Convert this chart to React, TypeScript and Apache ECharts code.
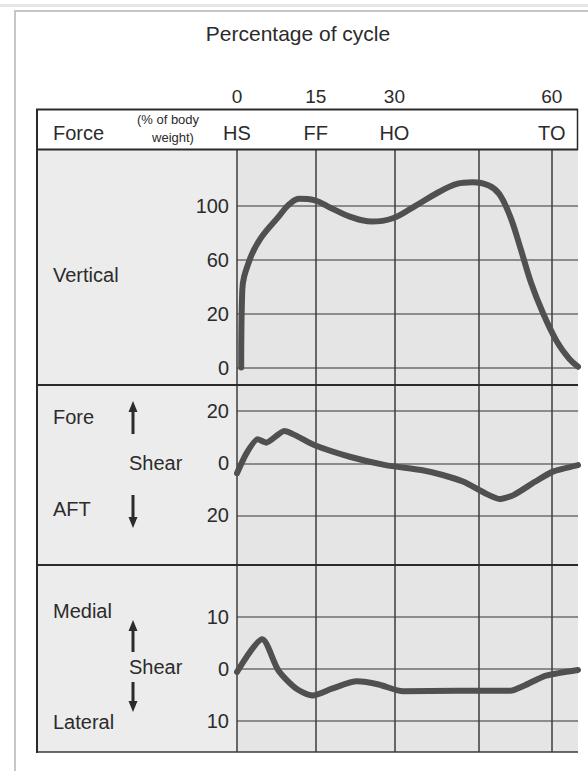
import React, { useEffect, useRef } from 'react';
import * as echarts from 'echarts';

// ---- data ----
const cycleTicks = [0, 15, 30, 60];
const phaseLabels = ['HS', 'FF', 'HO', 'TO'];
const cycleGridLines = [0, 15, 30, 46, 60];

const verticalTickLabels = [0, 20, 60, 100];
const verticalPct = [0.8, 1.0, 2.4, 4.5, 7.9, 10, 11.9, 14.7, 18.1, 21.5, 25.6, 29.7, 33.7, 38.5, 41.9, 44.9, 48, 50, 52.1, 54.1, 56.1, 58.2, 60.9, 63.3, 65];
const verticalForce = [0, 37, 60, 76, 92, 101.5, 105.4, 104.4, 98.3, 92.2, 88.5, 91, 99.5, 110.5, 116.6, 117.8, 115.4, 109, 92, 67.8, 42.4, 21.6, 9.9, 3.3, 0.3];

const apTickLabels = [-20, 0, 20];
const apPct = [0, 1.8, 3.9, 5.6, 9, 14.7, 21.5, 28.3, 35.1, 39.2, 43.2, 47.3, 50, 52.7, 56.8, 60.2, 65];
const apForce = [-3.8, 3.8, 9.2, 7.9, 12.4, 7, 2.5, -0.7, -2.6, -4.5, -7.1, -11.5, -13.7, -12.2, -7.1, -3.2, -0.7];

const mlTickLabels = [-10, 0, 10];
const mlPct = [0, 4.8, 7.9, 11.3, 14.4, 18.1, 22.9, 27, 31.7, 41.9, 52.1, 54.8, 58.9, 65];
const mlForce = [-0.6, 5.7, -0.3, -3.8, -5.1, -3.8, -2.4, -3.0, -4.3, -4.2, -4.2, -3.2, -1.3, -0.2];

// The printed vertical-force axis spaces 0, 20, 60, 100 evenly: map a value onto that axis.
function toVerticalStep(v: number): number {
  const t = verticalTickLabels;
  for (let i = 0; i < t.length - 1; i++) {
    if (v <= t[i + 1]) return i + (v - t[i]) / (t[i + 1] - t[i]);
  }
  const n = t.length - 1;
  return n + (v - t[n]) / (t[n] - t[n - 1]);
}

const FONT = '"Liberation Sans", Arial, Helvetica, sans-serif';
const TXT = '#2b2b2b';

function txt(text: string, x: number, y: number, size: number, align = 'left') {
  return {
    type: 'text',
    z: 100,
    style: {
      text, x, y, fill: TXT, fontSize: size, fontFamily: FONT,
      align, verticalAlign: 'middle', textAlign: align, textVerticalAlign: 'middle',
    },
  };
}

function arrow(x: number, y1: number, y2: number, up: boolean) {
  const els: any[] = [];
  if (up) {
    els.push({ type: 'line', z: 100, shape: { x1: x, y1: y1 + 8, x2: x, y2 }, style: { stroke: '#2b2b2b', lineWidth: 3 } });
    els.push({ type: 'polygon', z: 100, shape: { points: [[x, y1], [x - 4.5, y1 + 11], [x + 4.5, y1 + 11]] }, style: { fill: '#2b2b2b' } });
  } else {
    els.push({ type: 'line', z: 100, shape: { x1: x, y1, x2: x, y2: y2 - 8 }, style: { stroke: '#2b2b2b', lineWidth: 3 } });
    els.push({ type: 'polygon', z: 100, shape: { points: [[x, y2], [x - 4.5, y2 - 11], [x + 4.5, y2 - 11]] }, style: { fill: '#2b2b2b' } });
  }
  return els;
}

export default function App() {
  const ref = useRef<HTMLDivElement>(null);
  useEffect(() => {
    if (!ref.current) return;
    const chart = echarts.init(ref.current, undefined, { renderer: 'svg' });

    const vLine = { color: '#3d3d3d', width: 1.5 };
    const hLine = { color: '#6e6e6e', width: 1.5 };
    const labelBase = { fontSize: 20, color: TXT, fontFamily: FONT };

    const plotX = (g: number) => ({
      gridIndex: g, type: 'value', min: 0, max: 65,
      axisLine: { show: false },
      axisTick: { show: false, customValues: cycleGridLines },
      axisLabel: { show: false },
      splitLine: { show: true, lineStyle: vLine },
    });

    const lineStyle = { color: '#505050', width: 6, cap: 'round', join: 'round' };

    const option: any = {
      animation: false,
      backgroundColor: '#ffffff',
      grid: [
        { left: 237, width: 341, top: 109, height: 40, show: false },
        { left: 237, width: 341, top: 150, height: 235, show: true, backgroundColor: '#e5e5e5', borderWidth: 0 },
        { left: 237, width: 341, top: 385, height: 180, show: true, backgroundColor: '#e5e5e5', borderWidth: 0 },
        { left: 237, width: 341, top: 565, height: 187, show: true, backgroundColor: '#e5e5e5', borderWidth: 0 },
      ],
      xAxis: [
        {
          gridIndex: 0, type: 'value', position: 'top', min: 0, max: 65,
          axisLine: { show: false }, axisTick: { show: false, customValues: cycleTicks },
          axisLabel: { ...labelBase, fontSize: 19, customValues: cycleTicks, margin: 3 },
          splitLine: { show: false },
        },
        {
          gridIndex: 0, type: 'value', position: 'bottom', min: 0, max: 65,
          axisLine: { show: false }, axisTick: { show: false, customValues: cycleTicks },
          axisLabel: {
            ...labelBase, inside: true, margin: 6, customValues: cycleTicks,
            formatter: (v: number) => phaseLabels[cycleTicks.indexOf(v)] ?? '',
          },
          splitLine: { show: false },
        },
        plotX(1), plotX(2), plotX(3),
      ],
      yAxis: [
        { gridIndex: 0, type: 'value', min: 0, max: 1, show: false },
        {
          gridIndex: 1, type: 'value', min: -0.325, max: 4.043,
          axisLine: { show: false },
          axisTick: { show: false, customValues: [0, 1, 2, 3] },
          axisLabel: { ...labelBase, customValues: [0, 1, 2, 3], margin: 8, formatter: (v: number) => String(verticalTickLabels[Math.round(v)]) },
          splitLine: { show: true, lineStyle: hLine },
        },
        {
          gridIndex: 2, type: 'value', min: -39, max: 30,
          axisLine: { show: false },
          axisTick: { show: false, customValues: apTickLabels },
          axisLabel: { ...labelBase, customValues: apTickLabels, margin: 8, formatter: (v: number) => String(Math.abs(v)) },
          splitLine: { show: true, lineStyle: hLine },
        },
        {
          gridIndex: 3, type: 'value', min: -16, max: 20,
          axisLine: { show: false },
          axisTick: { show: false, customValues: mlTickLabels },
          axisLabel: { ...labelBase, customValues: mlTickLabels, margin: 8, formatter: (v: number) => String(Math.abs(v)) },
          splitLine: { show: true, lineStyle: hLine },
        },
      ],
      series: [
        {
          name: 'Vertical', type: 'line', xAxisIndex: 2, yAxisIndex: 1,
          data: verticalPct.map((x, i) => [x, toVerticalStep(verticalForce[i])]),
          symbol: 'none', smooth: 0.4, z: 5, lineStyle,
        },
        {
          name: 'Fore-aft shear', type: 'line', xAxisIndex: 3, yAxisIndex: 2,
          data: apPct.map((x, i) => [x, apForce[i]]),
          symbol: 'none', smooth: 0.2, z: 5, lineStyle,
        },
        {
          name: 'Medial-lateral shear', type: 'line', xAxisIndex: 4, yAxisIndex: 3,
          data: mlPct.map((x, i) => [x, mlForce[i]]),
          symbol: 'none', smooth: 0.25, z: 5, lineStyle,
        },
      ],
      graphic: [
        { type: 'rect', z: -5, shape: { x: 0, y: 4, width: 588, height: 3 }, style: { fill: '#e6e6e6' } },
        { type: 'rect', z: -5, shape: { x: 15, y: 11, width: 620, height: 800 }, style: { fill: 'none', stroke: '#c6c6c6', lineWidth: 2 } },
        { type: 'rect', z: -5, shape: { x: 36, y: 150, width: 201, height: 602 }, style: { fill: '#ececec' } },
        { type: 'line', z: 50, shape: { x1: 36, y1: 109.5, x2: 578, y2: 109.5 }, style: { stroke: '#2a2a2a', lineWidth: 2 } },
        { type: 'line', z: 50, shape: { x1: 577.5, y1: 109, x2: 577.5, y2: 150 }, style: { stroke: '#2a2a2a', lineWidth: 1.5 } },
        { type: 'line', z: 50, shape: { x1: 36, y1: 149.5, x2: 578, y2: 149.5 }, style: { stroke: '#2a2a2a', lineWidth: 2 } },
        { type: 'line', z: 50, shape: { x1: 36, y1: 385, x2: 578, y2: 385 }, style: { stroke: '#2a2a2a', lineWidth: 2 } },
        { type: 'line', z: 50, shape: { x1: 36, y1: 565, x2: 578, y2: 565 }, style: { stroke: '#2a2a2a', lineWidth: 2 } },
        { type: 'line', z: 50, shape: { x1: 36, y1: 752, x2: 578, y2: 752 }, style: { stroke: '#3a3a3a', lineWidth: 1.5 } },
        { type: 'line', z: 50, shape: { x1: 37, y1: 109, x2: 37, y2: 753 }, style: { stroke: '#2a2a2a', lineWidth: 2 } },
        txt('Percentage of cycle', 298, 33, 21, 'center'),
        txt('Force', 53, 133, 20),
        txt('(% of body', 168, 119, 13, 'center'),
        txt('weight)', 173, 137, 13, 'center'),
        txt('Vertical', 53, 275, 20),
        txt('Fore', 53, 417, 20),
        txt('Shear', 129, 463, 20),
        txt('AFT', 53, 509, 20),
        txt('Medial', 53, 611, 20),
        txt('Shear', 129, 667, 20),
        txt('Lateral', 53, 722, 20),
        ...arrow(133, 401, 434, true),
        ...arrow(133, 495, 528, false),
        ...arrow(133, 620, 652, true),
        ...arrow(133, 682, 712, false),
      ],
    };

    chart.setOption(option);
    return () => chart.dispose();
  }, []);

  return (
    <div
      ref={ref}
      style={{ position: 'absolute', left: 0, top: 0, width: 588, height: 771, background: '#fff' }}
    />
  );
}
